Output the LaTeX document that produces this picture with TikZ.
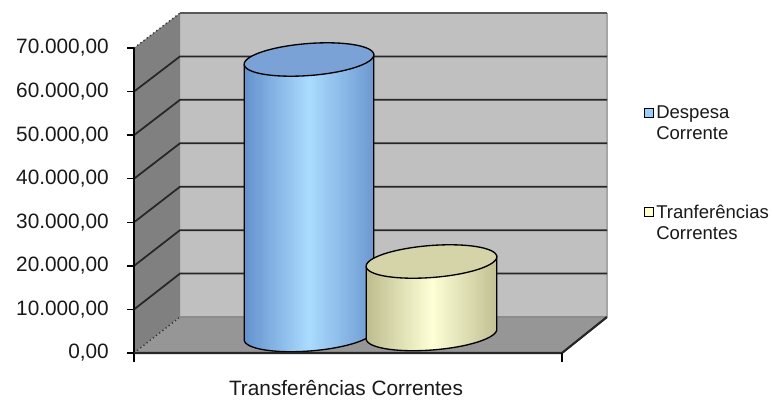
\documentclass[tikz,border=0pt]{standalone}
\usepackage{fontspec}
\setmainfont{Liberation Sans}
\definecolor{backwall}{RGB}{192,192,192}
\definecolor{leftwall}{RGB}{128,128,128}
\definecolor{floorc}{RGB}{150,150,150}
\definecolor{blueL}{RGB}{100,145,205}
\definecolor{blueM}{RGB}{170,220,255}
\definecolor{blueR}{RGB}{108,152,208}
\definecolor{blueTop}{RGB}{122,162,214}
\definecolor{yelL}{RGB}{188,188,142}
\definecolor{yelM}{RGB}{255,255,215}
\definecolor{yelR}{RGB}{192,192,146}
\definecolor{yelTop}{RGB}{212,212,168}
\definecolor{legblue}{RGB}{153,204,255}
\definecolor{legyel}{RGB}{255,255,204}
\definecolor{txt}{RGB}{25,25,25}
\def\ct{0.997}
\def\st{0.0767}
\newcommand\mycyl[6]{%
  \draw[line width=1pt, left color=#6L, right color=#6R, middle color=#6M]
    plot[domain=180:0, samples=60, variable=\t]
      ({#1+#4*cos(\t)*\ct+#5*sin(\t)*\st},{#3-#4*cos(\t)*\st+#5*sin(\t)*\ct})
    -- ({#1+#4*\ct},{#2-#4*\st}) -- ({#1-#4*\ct},{#2+#4*\st}) -- cycle;
  \draw[line width=1pt, fill=#6Top]
    plot[domain=0:360, samples=90, variable=\t]
      ({#1+#4*cos(\t)*\ct+#5*sin(\t)*\st},{#2-#4*cos(\t)*\st+#5*sin(\t)*\ct}) -- cycle;
}
\tikzset{
  ticklabel/.style={anchor=east, inner sep=0pt, text=txt, font=\fontsize{15.6}{18}\selectfont},
  legtext/.style={anchor=west, inner sep=0pt, text=txt, align=left, font=\fontsize{13.9}{15.75}\selectfont},
  legbox/.style={draw=black, line width=1.1pt, minimum size=7pt, inner sep=0pt},
  grid/.style={line width=1.3pt, draw=black!85},
  dotline/.style={line width=1pt, dotted, draw=black!80},
}
\begin{document}
\begin{tikzpicture}[x=0.75pt, y=-0.75pt]
\useasboundingbox[fill=white] (0,0) rectangle (775,401);
% walls and floor
\fill[backwall] (180,13) rectangle (607,317);
\draw[line width=0.8pt, draw=black!35] (607,13) -- (607,317);
\fill[leftwall] (134,48) -- (180,13) -- (180,317) -- (134,353) -- cycle;
\fill[floorc] (134,353) -- (180,317) -- (607,317) -- (562,353) -- cycle;
\draw[line width=0.8pt, draw=black!45] (180,317) -- (607,317);
\draw[line width=1.3pt, draw=black!65] (180,13) -- (607,13);
% gridlines
\foreach \i in {1,...,6}{
  \draw[grid] (134,{353-43.57*\i}) -- (180,{317-43.43*\i}) -- (607,{317-43.43*\i});
}
\draw[dotline] (134,48) -- (180,13);
\draw[dotline] (134,353) -- (180,317);
% cylinders
\mycyl{309}{59.5}{335}{65}{16}{blue}
\mycyl{431.5}{261.5}{334}{65.5}{16}{yel}
% axes
\draw[line width=1.3pt] (134,48) -- (134,362);
\draw[line width=1.6pt, draw=black!85] (134,353) -- (562,353) -- (607,317);
\draw[line width=1pt] (562,353) -- (562,362);
\foreach \i/\lab in {0/{0,00},1/{10.000,00},2/{20.000,00},3/{30.000,00},4/{40.000,00},5/{50.000,00},6/{60.000,00},7/{70.000,00}}{
  \draw[line width=1pt] (127,{353-43.57*\i}) -- (134,{353-43.57*\i});
  \node[ticklabel] (yl\i) at (109,{353-43.57*\i}) {\lab};
}
\node[inner sep=0pt, text=txt, font=\fontsize{15.6}{18}\selectfont] (xlab) at (346,388) {Transferências Correntes};
% legend
\node[legbox, fill=legblue] (lb1) at (649,113) {};
\node[legtext] (lt1) at (656,122.5) {Despesa\\Corrente};
\node[legbox, fill=legyel] (lb2) at (649,212) {};
\node[legtext] (lt2) at (656,222.5) {Tranferências\\Correntes};
\end{tikzpicture}
\end{document}
